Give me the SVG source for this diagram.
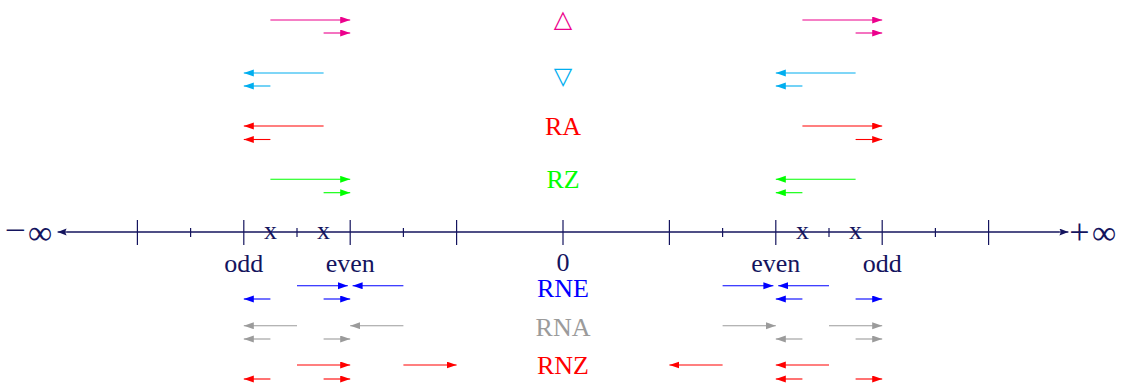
<svg xmlns="http://www.w3.org/2000/svg" width="1121" height="385" viewBox="0 0 1121 385">
  <style>
    text { font-family: "Liberation Serif", "Times New Roman", serif; font-size: 26px; text-anchor: middle; }
    .navy { fill: #14145e; }
    .sign { font-size: 30px; }
    .plus { font-size: 36px; }
    .inf { font-size: 34px; }
    .sym { font-family: "DejaVu Sans", sans-serif; font-size: 24px; }
    .axis { stroke: #14145e; stroke-width: 1.3; fill: none; }
    .tick { stroke: #14145e; stroke-width: 1.2; }
    .a { stroke-width: 1.1; fill: none; }
    .mag { stroke: #ec008c; marker-end: url(#hMag); }
    .cya { stroke: #00aeef; marker-end: url(#hCya); }
    .red { stroke: #ff0000; marker-end: url(#hRed); }
    .grn { stroke: #00ff00; marker-end: url(#hGrn); }
    .blu { stroke: #0000ff; marker-end: url(#hBlu); }
    .gry { stroke: #9b9b9b; marker-end: url(#hGry); }
  </style>
  <defs>
    <marker id="hNavy" markerUnits="userSpaceOnUse" markerWidth="10" markerHeight="8" refX="9" refY="3.5" orient="auto"><path d="M0,0 L9,3.5 L0,7 L1.5,3.5 z" fill="#14145e"/></marker>
    <marker id="hMag" markerUnits="userSpaceOnUse" markerWidth="11" markerHeight="8" refX="10" refY="3.5" orient="auto"><path d="M0,0 L10,3.5 L0,7 z" fill="#ec008c"/></marker>
    <marker id="hCya" markerUnits="userSpaceOnUse" markerWidth="11" markerHeight="8" refX="10" refY="3.5" orient="auto"><path d="M0,0 L10,3.5 L0,7 z" fill="#00aeef"/></marker>
    <marker id="hRed" markerUnits="userSpaceOnUse" markerWidth="11" markerHeight="8" refX="10" refY="3.5" orient="auto"><path d="M0,0 L10,3.5 L0,7 z" fill="#ff0000"/></marker>
    <marker id="hGrn" markerUnits="userSpaceOnUse" markerWidth="11" markerHeight="8" refX="10" refY="3.5" orient="auto"><path d="M0,0 L10,3.5 L0,7 z" fill="#00ff00"/></marker>
    <marker id="hBlu" markerUnits="userSpaceOnUse" markerWidth="11" markerHeight="8" refX="10" refY="3.5" orient="auto"><path d="M0,0 L10,3.5 L0,7 z" fill="#0000ff"/></marker>
    <marker id="hGry" markerUnits="userSpaceOnUse" markerWidth="11" markerHeight="8" refX="10" refY="3.5" orient="auto"><path d="M0,0 L10,3.5 L0,7 z" fill="#9b9b9b"/></marker>
  </defs>
  <rect width="1121" height="385" fill="#ffffff"/>

  <!-- number line -->
  <g id="axis">
    <line class="axis" x1="67" y1="232" x2="1059" y2="232"/>
    <line class="axis" x1="1059" y1="232" x2="1068.4" y2="232" marker-end="url(#hNavy)"/>
    <line class="axis" x1="67" y1="232" x2="57.6" y2="232" marker-end="url(#hNavy)"/>
    <g class="tick">
      <line x1="137.4" y1="220" x2="137.4" y2="245"/>
      <line x1="243.8" y1="220" x2="243.8" y2="245"/>
      <line x1="350.2" y1="220" x2="350.2" y2="245"/>
      <line x1="456.6" y1="220" x2="456.6" y2="245"/>
      <line x1="563" y1="220" x2="563" y2="245"/>
      <line x1="669.4" y1="220" x2="669.4" y2="245"/>
      <line x1="775.8" y1="220" x2="775.8" y2="245"/>
      <line x1="882.2" y1="220" x2="882.2" y2="245"/>
      <line x1="988.6" y1="220" x2="988.6" y2="245"/>
      <line x1="190.6" y1="228" x2="190.6" y2="237"/>
      <line x1="297" y1="228" x2="297" y2="237"/>
      <line x1="403.4" y1="228" x2="403.4" y2="237"/>
      <line x1="722.6" y1="228" x2="722.6" y2="237"/>
      <line x1="829" y1="228" x2="829" y2="237"/>
      <line x1="935.4" y1="228" x2="935.4" y2="237"/>
    </g>
    <text class="navy sign" transform="translate(15.5,240) scale(1.25,1)">−</text>
    <text class="navy inf" x="40" y="244">∞</text>
    <text class="navy plus" x="1079.5" y="243.5">+</text>
    <text class="navy inf" x="1104" y="244">∞</text>
    <text class="navy" x="270.4" y="238.5">x</text>
    <text class="navy" x="323.6" y="238.5">x</text>
    <text class="navy" x="802.4" y="238.5">x</text>
    <text class="navy" x="855.6" y="238.5">x</text>
    <text class="navy" x="243.8" y="272">odd</text>
    <text class="navy" x="350.2" y="272">even</text>
    <text class="navy" x="563" y="271">0</text>
    <text class="navy" x="775.8" y="272">even</text>
    <text class="navy" x="882.2" y="272">odd</text>
  </g>

  <!-- mode labels -->
  <g id="label-up"><text class="sym" x="563" y="27" fill="#ec008c">△</text></g>
  <g id="label-down"><text class="sym" x="563" y="84" fill="#00aeef">▽</text></g>
  <g id="label-RA"><text x="563" y="135" fill="#ff0000">RA</text></g>
  <g id="label-RZ"><text x="563" y="188" fill="#00ff00">RZ</text></g>
  <g id="label-RNE"><text x="563" y="296.5" fill="#0000ff">RNE</text></g>
  <g id="label-RNA"><text x="563" y="336" fill="#9b9b9b">RNA</text></g>
  <g id="label-RNZ"><text x="563" y="374" fill="#ff0000">RNZ</text></g>

  <!-- rounding arrows -->
  <g id="connectors" class="a">
    <!-- toward +inf -->
    <line class="mag" x1="270.4" y1="20" x2="350.2" y2="20"/>
    <line class="mag" x1="323.6" y1="33" x2="350.2" y2="33"/>
    <line class="mag" x1="802.4" y1="20" x2="882.2" y2="20"/>
    <line class="mag" x1="855.6" y1="33" x2="882.2" y2="33"/>
    <!-- toward -inf -->
    <line class="cya" x1="323.6" y1="73" x2="243.8" y2="73"/>
    <line class="cya" x1="270.4" y1="86" x2="243.8" y2="86"/>
    <line class="cya" x1="855.6" y1="73" x2="775.8" y2="73"/>
    <line class="cya" x1="802.4" y1="86" x2="775.8" y2="86"/>
    <!-- away from zero -->
    <line class="red" x1="323.6" y1="126" x2="243.8" y2="126"/>
    <line class="red" x1="270.4" y1="139.5" x2="243.8" y2="139.5"/>
    <line class="red" x1="802.4" y1="126" x2="882.2" y2="126"/>
    <line class="red" x1="855.6" y1="139.5" x2="882.2" y2="139.5"/>
    <!-- toward zero -->
    <line class="grn" x1="270.4" y1="179.3" x2="350.2" y2="179.3"/>
    <line class="grn" x1="323.6" y1="192.7" x2="350.2" y2="192.7"/>
    <line class="grn" x1="855.6" y1="179.3" x2="775.8" y2="179.3"/>
    <line class="grn" x1="802.4" y1="192.7" x2="775.8" y2="192.7"/>
    <!-- nearest, ties to even -->
    <line class="blu" x1="297" y1="285.7" x2="347.8" y2="285.7"/>
    <line class="blu" x1="403.4" y1="285.7" x2="352.6" y2="285.7"/>
    <line class="blu" x1="270.4" y1="299" x2="243.8" y2="299"/>
    <line class="blu" x1="323.6" y1="299" x2="350.2" y2="299"/>
    <line class="blu" x1="722.6" y1="285.7" x2="773.4" y2="285.7"/>
    <line class="blu" x1="829" y1="285.7" x2="778.2" y2="285.7"/>
    <line class="blu" x1="802.4" y1="299" x2="775.8" y2="299"/>
    <line class="blu" x1="855.6" y1="299" x2="882.2" y2="299"/>
    <!-- nearest, ties away -->
    <line class="gry" x1="297" y1="325.7" x2="243.8" y2="325.7"/>
    <line class="gry" x1="403.4" y1="325.7" x2="350.2" y2="325.7"/>
    <line class="gry" x1="270.4" y1="339" x2="243.8" y2="339"/>
    <line class="gry" x1="323.6" y1="339" x2="350.2" y2="339"/>
    <line class="gry" x1="722.6" y1="325.7" x2="775.8" y2="325.7"/>
    <line class="gry" x1="829" y1="325.7" x2="882.2" y2="325.7"/>
    <line class="gry" x1="802.4" y1="339" x2="775.8" y2="339"/>
    <line class="gry" x1="855.6" y1="339" x2="882.2" y2="339"/>
    <!-- nearest, ties toward zero -->
    <line class="red" x1="297" y1="365" x2="350.2" y2="365"/>
    <line class="red" x1="403.4" y1="365" x2="456.6" y2="365"/>
    <line class="red" x1="270.4" y1="379" x2="243.8" y2="379"/>
    <line class="red" x1="323.6" y1="379" x2="350.2" y2="379"/>
    <line class="red" x1="722.6" y1="365" x2="669.4" y2="365"/>
    <line class="red" x1="829" y1="365" x2="775.8" y2="365"/>
    <line class="red" x1="802.4" y1="379" x2="775.8" y2="379"/>
    <line class="red" x1="855.6" y1="379" x2="882.2" y2="379"/>
  </g>
</svg>
